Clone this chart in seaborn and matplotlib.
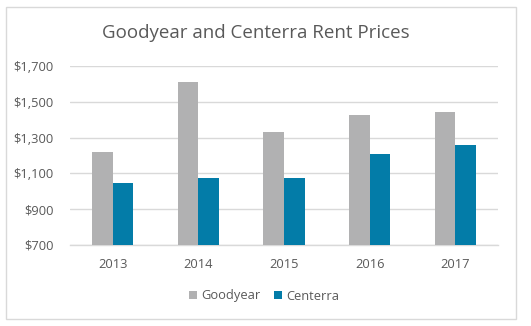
import matplotlib
matplotlib.use("Agg")
import matplotlib.pyplot as plt
from matplotlib.patches import Rectangle
from matplotlib.ticker import FuncFormatter
import seaborn as sns
import pandas as pd

years = ["2013", "2014", "2015", "2016", "2017"]
goodyear = [1220, 1610, 1330, 1425, 1442]
centerra = [1046, 1074, 1075, 1208, 1258]
series_names = ["Goodyear", "Centerra"]
colors = ["#B1B1B2", "#037CA8"]
yticks = [700, 900, 1100, 1300, 1500, 1700]

df = pd.DataFrame({
    "Year": years * 2,
    "Rent": goodyear + centerra,
    "City": [series_names[0]] * len(years) + [series_names[1]] * len(years),
})

sns.set_theme(style="white")
plt.rcParams["font.family"] = ["Open Sans", "DejaVu Sans"]
text_color = "#595959"

W, H = 531, 326
fig = plt.figure(figsize=(W / 100, H / 100), dpi=100)
ax = fig.add_axes([70 / W, 81 / H, (498 - 70) / W, (245 - 66) / H])

sns.barplot(data=df, x="Year", y="Rent", hue="City", palette=colors,
            width=0.48, gap=0, saturation=1, ax=ax, legend=True,
            linewidth=0, edgecolor="none", zorder=3)

ax.set_ylim(700, 1700)
ax.set_yticks(yticks)
ax.yaxis.set_major_formatter(FuncFormatter(lambda v, p: f"${v:,.0f}"))
ax.set_xlabel("")
ax.set_ylabel("")
ax.grid(axis="y", color="#D9D9D9", linewidth=1.0, zorder=0)
ax.set_axisbelow(True)
for s in ["top", "right", "left"]:
    ax.spines[s].set_visible(False)
ax.spines["bottom"].set_color("#D9D9D9")
ax.spines["bottom"].set_linewidth(1.0)
ax.tick_params(axis="both", length=0, labelsize=9.3, colors=text_color)
ax.tick_params(axis="y", pad=12)
ax.tick_params(axis="x", pad=9)

leg = ax.legend(loc="center", bbox_to_anchor=(264 / W, 1 - 296 / H),
                bbox_transform=fig.transFigure, ncol=2, frameon=False,
                fontsize=9.3, handlelength=0.6, handleheight=0.6,
                handletextpad=0.3, columnspacing=1.1)
for t in leg.get_texts():
    t.set_color(text_color)

fig.text(256 / W, 1 - 33 / H, "Goodyear and Centerra Rent Prices",
         ha="center", va="center", fontsize=13.5, color=text_color)

fig.patches.append(Rectangle((6 / W, 1 - 319 / H), (516 - 6) / W, (319 - 7) / H,
                             transform=fig.transFigure, fill=False,
                             edgecolor="#D9D9D9", linewidth=1.0))

fig.savefig("out.png", dpi=100, facecolor="white")
